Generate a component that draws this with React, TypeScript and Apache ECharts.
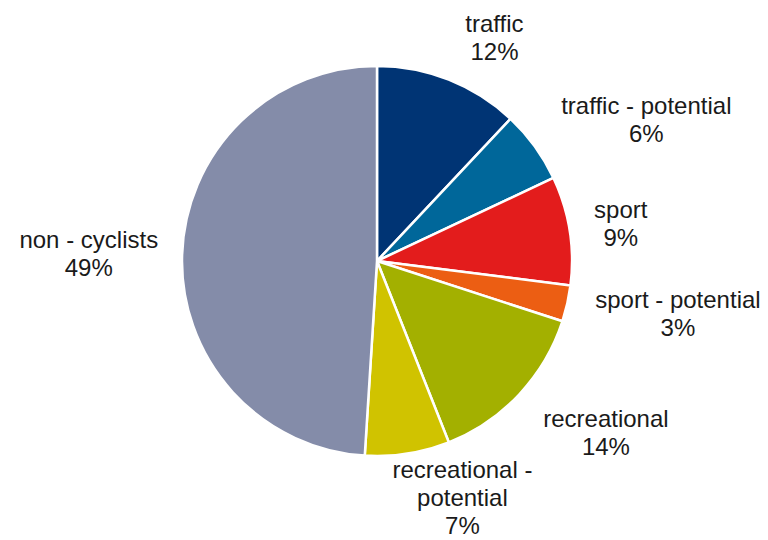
import React, { useEffect, useRef } from "react";
import * as echarts from "echarts";

const categories = [
  "traffic",
  "traffic - potential",
  "sport",
  "sport - potential",
  "recreational",
  "recreational -\npotential",
  "non - cyclists",
];
const values = [12, 6, 9, 3, 14, 7, 49];
const colors = ["#003474", "#00679a", "#e31c1c", "#ec5e13", "#a3b000", "#d0c300", "#848ca9"];
// label offsets (style only): radial length and horizontal length2
const labelLen = [45, 45, 45, 45, 55, 44, 45];
const labelLen2 = [0, -10, -20, -16, -16, -22, -21];

export default function App() {
  const ref = useRef<HTMLDivElement>(null);
  useEffect(() => {
    if (!ref.current) return;
    const chart = echarts.init(ref.current, null, { renderer: "svg" });
    chart.setOption({
      animation: false,
      backgroundColor: "#ffffff",
      series: [
        {
          type: "pie",
          center: [377, 261],
          radius: [0, 195],
          startAngle: 90,
          clockwise: true,
          avoidLabelOverlap: false,
          itemStyle: { borderColor: "#ffffff", borderWidth: 2.5 },
          label: {
            show: true,
            position: "outside",
            formatter: (p: any) => `${p.name}\n${p.value}%`,
            fontFamily: "Liberation Sans, Arial, sans-serif",
            fontSize: 24,
            lineHeight: 28,
            color: "#1a1a1a",
            distanceToLabelLine: 0,
          },
          labelLine: { show: false, length: 45, length2: 0 },
          labelLayout: (params: any) => {
            const r = params.labelRect;
            return {
              x: r.x + r.width / 2,
              y: r.y + r.height / 2,
              align: "center",
              verticalAlign: "middle",
            };
          },
          data: categories.map((name, i) => ({
            name,
            value: values[i],
            itemStyle: { color: colors[i] },
            labelLine: { length: labelLen[i], length2: labelLen2[i] },
          })),
        },
      ],
    });
    return () => chart.dispose();
  }, []);
  return (
    <div
      ref={ref}
      style={{ position: "fixed", left: 0, top: 0, width: 768, height: 540 }}
    />
  );
}
